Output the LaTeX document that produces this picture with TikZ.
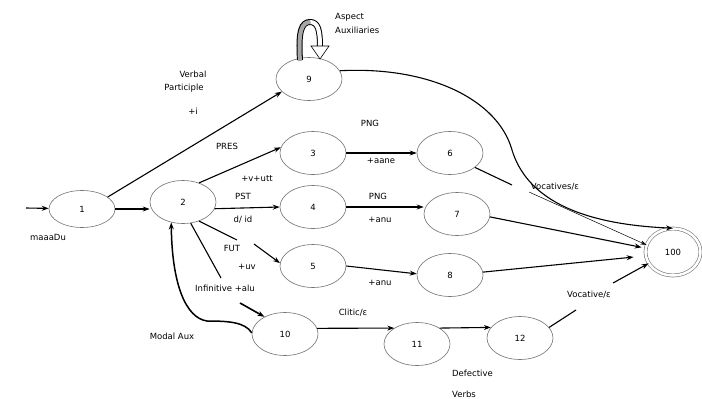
\documentclass[tikz,border=0pt]{standalone}
\usepackage{fontspec}
\setmainfont{DejaVu Sans}
\usetikzlibrary{arrows.meta,shapes.geometric}
\tikzset{
  st/.style={ellipse,draw=black!55,line width=0.6pt,minimum width=66pt,minimum height=43pt,inner sep=0pt,font=\fontsize{8.5}{10}\selectfont},
  lab/.style={inner sep=0pt,font=\fontsize{8.5}{10}\selectfont},
  arr/.style={line width=1.1pt,-{Stealth[length=7pt,width=5pt]}},
  ln/.style={line width=1.1pt},
}
\begin{document}
\begin{tikzpicture}[x=1pt,y=-1pt]
\useasboundingbox (0,0) rectangle (702,399);
% states
\node[st,minimum height=37pt] (n1) at (82,209) {1};
\node[st] (n2) at (183,202) {2};
\node[st] (n9) at (309,79) {9};
\node[st] (n3) at (313,153) {3};
\node[st] (n4) at (313,207) {4};
\node[st] (n5) at (313,266) {5};
\node[st] (n6) at (450,153) {6};
\node[st] (n7) at (457,214) {7};
\node[st] (n8) at (450,275) {8};
\node[st] (n10) at (285,334) {10};
\node[st] (n11) at (417,344) {11};
\node[st] (n12) at (520,338) {12};
\node[st,minimum width=55pt,minimum height=47pt,double,double distance=2.5pt] (n100) at (673,252) {100};
% labels
\node[lab] (lmaaadu) at (48,237) {maaaDu};
\node[lab] (lverbal) at (193,74) {Verbal};
\node[lab] (lpart) at (184,88) {Participle};
\node[lab] (li) at (193,111) {+i};
\node[lab,anchor=west] (lasp) at (335,17) {Aspect};
\node[lab,anchor=west] (laux) at (335,30) {Auxiliaries};
\node[lab] (lpres) at (227,146) {PRES};
\node[lab] (lvutt) at (257,179) {+v+utt};
\node[lab] (lpst) at (243,196) {PST};
\node[lab] (ldid) at (243,220) {d/ id};
\node[lab] (lfut) at (232,248) {FUT};
\node[lab] (luv) at (247,267) {+uv};
\node[lab] (linf) at (225,288) {Infinitive +alu};
\node[lab] (lpng1) at (370,123) {PNG};
\node[lab] (laane) at (381,161) {+aane};
\node[lab] (lpng2) at (378,196) {PNG};
\node[lab] (lanu1) at (380,220) {+anu};
\node[lab] (lanu2) at (380,283) {+anu};
\node[lab] (lclitic) at (353,313) {Clitic/ε};
\node[lab] (lmodal) at (172,336) {Modal Aux};
\node[lab,anchor=west] (ldef) at (452,373) {Defective};
\node[lab,anchor=west] (lverbs) at (452,394) {Verbs};
\node[lab] (lvocs) at (555,187) {Vocatives/ε};
\node[lab] (lvoc) at (589,295) {Vocative/ε};
% free ends
\coordinate (in) at (26,208);
\coordinate (f1) at (237,240);
\coordinate (f2) at (254,244);
\coordinate (i1) at (221,278);
\coordinate (i2) at (240,303);
\coordinate (v1) at (512,185);
\coordinate (v2) at (529,192);
\coordinate (w1) at (576,310);
\coordinate (w2) at (613,283);
% connectors
\draw[arr] (in) -- (n1);
\draw[arr] (n1.east) -- (n2.west |- n1.east);
\draw[arr] (n1.25) -- (n9.205);
\draw[arr] (n2.50) -- (n3.170);
\draw[arr] (n2.-12) -- (n4.west);
\draw[ln] (n2.-50) -- (f1);
\draw[arr] (f2) -- (n5.175);
\draw[ln] (n2.-70) -- (i1);
\draw[arr,line width=1.6pt] (i2) -- (n10.140);
\draw[arr,line width=1.5pt] (n10.178) .. controls (245,322) and (228,321) .. (207,321)
   .. controls (186,318) and (172,285) .. (n2.240);
\draw[arr] (n3.east) -- (n6.west);
\draw[arr] (n4.east) -- (n7.west |- n4.east);
\draw[arr] (n5.east) -- (n8.178);
\draw[arr] (n9.15) .. controls (430,66) and (498,100) .. (512,150)
   .. controls (526,196) and (575,224) .. (n100.north);
\draw[ln] (n6.-30) -- (v1);
\draw[line width=0.5pt,-{Stealth[length=6pt,width=4pt]}] (v2) -- (n100.165);
\draw[arr,shorten >=4pt] (n7.-5) -- (n100.172);
\draw[arr,shorten >=12pt] (n8.5) -- (n100.188);
\draw[ln] (n12.20) -- (w1);
\draw[arr] (w2) -- (n100.205);
\draw[arr] (n10.10) -- (n11.145);
\draw[arr] (n11.35) -- (n12.160);
% self loop on 9 (block arrow)
\draw[line width=6pt,black] (300,60) .. controls (298,30) and (302,22) .. (310,22)
   .. controls (318,22) and (320,30) .. (320,47);
\draw[line width=4pt,white] (310,22) .. controls (318,22) and (320,30) .. (320,47.5);
\draw[line width=4pt,black!35] (300,61) .. controls (298,30) and (302,22) .. (310.5,22);
\filldraw[fill=white,draw=black,line width=0.6pt] (311,46) -- (329,46) -- (320,59) -- cycle;
\end{tikzpicture}
\end{document}
